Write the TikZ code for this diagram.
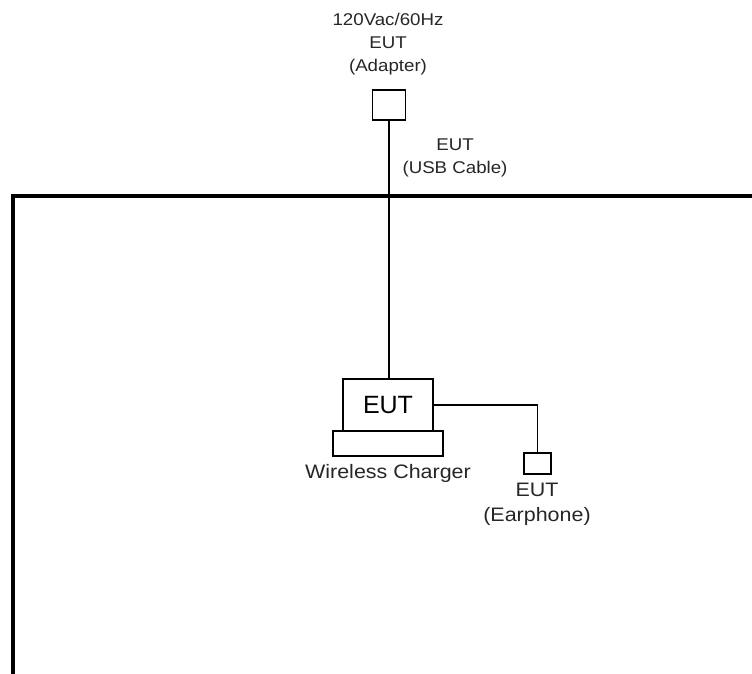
\documentclass[tikz,border=0pt]{standalone}
\usepackage{fontspec}
\setmainfont{Liberation Sans}
\newfontfamily\lblfont[FakeStretch=1.1]{Liberation Sans}
\usetikzlibrary{positioning}

\begin{document}
\begin{tikzpicture}[x=1pt,y=-1pt,
  wire/.style={line width=1.6pt,black},
  wall/.style={line width=3.6pt,black},
  devbox/.style={draw,line width=1.6pt,inner sep=0pt,fill=white},
  lbl/.style={align=center,text=black!85,font=\lblfont\fontsize{17}{23}\selectfont},
  biglbl/.style={lbl,font=\lblfont\fontsize{19.5}{25}\selectfont}]
\useasboundingbox (0,0) rectangle (752,674);
% room outline
\draw[wall] (13,674) -- (13,196) -- (752,196);
% adapter
\node[lbl] (adapterlbl) at (388,44) {120Vac/60Hz\\EUT\\(Adapter)};
\node[devbox,minimum width=33,minimum height=30] (adapter) at (389,105) {};
% charger and EUT
\node[devbox,minimum width=110,minimum height=25] (charger) at (388,443.5) {};
\node[devbox,minimum width=90,minimum height=52,font=\fontsize{25}{28}\selectfont] (eut) at (388,405) {EUT};
\node[biglbl] (chargerlbl) at (388,473) {Wireless Charger};
% cable
\draw[wire] (adapter.south) -- (adapter.south |- eut.north);
\node[lbl] (usblbl) at (455,158) {EUT\\(USB Cable)};
% earphone
\node[devbox,minimum width=27,minimum height=21] (earphone) at (537.5,463.5) {};
\draw[wire] (eut.east) -| (earphone.north);
\node[biglbl] (earphonelbl) at (537,504) {EUT\\(Earphone)};
\end{tikzpicture}
\end{document}
